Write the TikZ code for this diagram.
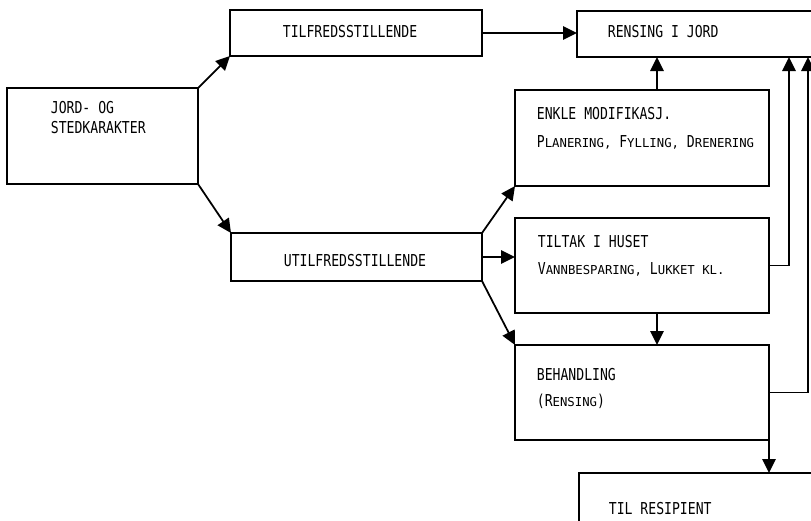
\documentclass[tikz,border=0pt]{standalone}
\usepackage{fontspec}
\usetikzlibrary{arrows.meta}
\newfontfamily\plotfont[FakeStretch=0.8]{DejaVu Sans Mono}
\newfontfamily\plotsmall{DejaVu Sans Mono}
\newcommand{\smc}[1]{{\plotsmall\fontsize{10.5}{12}\selectfont #1}}

\begin{document}
\begin{tikzpicture}[x=0.03cm, y=-0.03cm, line width=1.5pt,
        box/.style={draw, rectangle, anchor=north west, inner sep=0pt, outer sep=0pt},
        lbl/.style={anchor=base west, inner sep=0pt, font=\plotfont\fontsize{14}{16}\selectfont},
        arr/.style={-{Triangle[length=4.2mm, width=4mm]}}]
        \useasboundingbox (0,0) rectangle (811,520);
        \clip (0,0) rectangle (811,520);

        \node[box, minimum width=5.73cm, minimum height=2.88cm] (B1) at (7,88) {};
        \node[lbl] (L1) at (50,113) {JORD- OG};
        \node[lbl] (L2) at (50,133) {STEDKARAKTER};

        \node[box, minimum width=7.56cm, minimum height=1.38cm] (B2) at (230,10) {};
        \node[lbl] (L3) at (282,37) {TILFREDSSTILLENDE};

        \node[box, minimum width=7.89cm, minimum height=1.38cm] (B3) at (577,11) {};
        \node[lbl] (L4) at (607,37) {RENSING I JORD};

        \node[box, minimum width=7.62cm, minimum height=2.88cm] (B4) at (515,90) {};
        \node[lbl] (L5) at (536,119) {ENKLE MODIFIKASJ.};
        \node[lbl] (L6) at (536,147) {P\smc{LANERING,} F\smc{YLLING,} D\smc{RENERING}};

        \node[box, minimum width=7.62cm, minimum height=2.85cm] (B5) at (515,218) {};
        \node[lbl] (L7) at (537,247) {TILTAK I HUSET};
        \node[lbl] (L8) at (537,274) {V\smc{ANNBESPARING,} L\smc{UKKET KL.}};

        \node[box, minimum width=7.53cm, minimum height=1.44cm] (B6) at (231,233) {};
        \node[lbl] (L9) at (283,266) {UTILFREDSSTILLENDE};

        \node[box, minimum width=7.62cm, minimum height=2.85cm] (B7) at (515,345) {};
        \node[lbl] (L10) at (536,380) {BEHANDLING};
        \node[lbl] (L11) at (536,406) {(R\smc{ENSING})};

        \node[box, minimum width=8.1cm, minimum height=2.1cm] (B8) at (579,473) {};
        \node[lbl] (L12) at (608,514) {TIL RESIPIENT};

        \coordinate (c1) at ([xshift=0.45cm]B4.north);
        \coordinate (c2) at ([xshift=0.45cm]B5.south);
        \coordinate (r1) at (789,0);
        \coordinate (r2) at (808,0);

        \draw[arr] (B1.north east) -- (B2.south west);
        \draw[arr] (B1.south east) -- (B6.north west);
        \draw[arr] (B2.east) -- (B2.east -| B3.west);
        \draw[arr] (c1) -- (c1 |- B3.south);
        \draw[arr] (B6.north east) -- (B4.south west);
        \draw[arr] (B6.east) -- (B6.east -| B5.west);
        \draw[arr] (B6.south east) -- (B7.north west);
        \draw[arr] (c2) -- (c2 |- B7.north);
        \draw[arr] (B5.east) -| (r1 |- B3.south);
        \draw[arr] (B7.east) -| (r2 |- B3.south);
        \draw[arr] (B7.south east) -- (B7.south east |- B8.north);
    \end{tikzpicture}
\end{document}
